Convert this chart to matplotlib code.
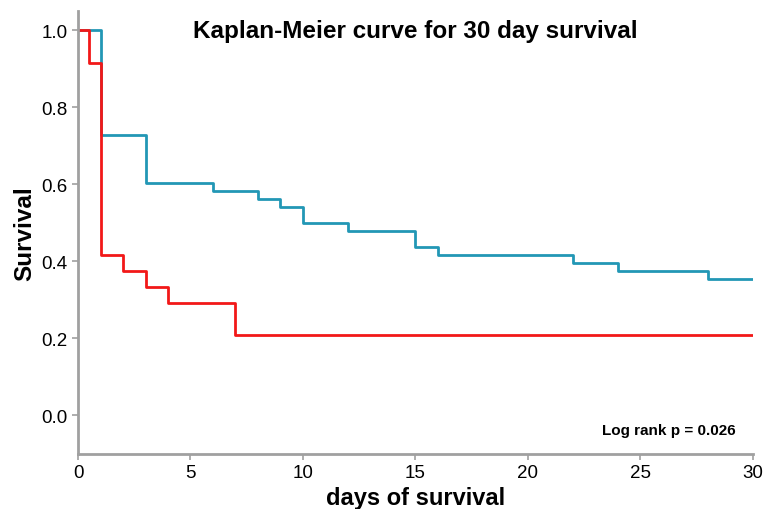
import numpy as np
import matplotlib
matplotlib.use("Agg")
import matplotlib.pyplot as plt

plt.rcParams['font.family'] = ['Liberation Sans', 'DejaVu Sans']

# blue group (n = 48)
blue_days = [0, 1, 3, 6, 8, 9, 10, 12, 15, 16, 22, 24, 28, 30]
blue_surv = [1.0, 35/48, 29/48, 28/48, 27/48, 26/48, 24/48, 23/48, 21/48, 20/48, 19/48, 18/48, 17/48, 17/48]

# red group (n = 24)
red_days = [0, 0.5, 1, 2, 3, 4, 7, 30]
red_surv = [1.0, 22/24, 10/24, 9/24, 8/24, 7/24, 5/24, 5/24]

title = 'Kaplan-Meier curve for 30 day survival'
pval_text = 'Log rank p = 0.026'

fig = plt.figure(figsize=(7.65, 5.1), dpi=100)
ax = fig.add_axes([0.102, 0.108, 0.882, 0.868])

ax.step(blue_days, blue_surv, where='post', color='#2297b5', linewidth=2)
ax.step(red_days, red_surv, where='post', color='#f21818', linewidth=2)

ax.set_xlim(0, 30)
ax.set_ylim(-0.1, 1.05)
ax.set_xticks([0, 5, 10, 15, 20, 25, 30])
ax.set_yticks([0.0, 0.2, 0.4, 0.6, 0.8, 1.0])
ax.set_yticklabels(['0.0', '0.2', '0.4', '0.6', '0.8', '1.0'])

for s in ['top', 'right']:
    ax.spines[s].set_visible(False)
for s in ['left', 'bottom']:
    ax.spines[s].set_color('#a0a0a0')
    ax.spines[s].set_linewidth(2)
ax.tick_params(colors='#a0a0a0', labelcolor='black', labelsize=13.5, length=4, width=1.2)

ax.set_xlabel('days of survival', fontsize=17, fontweight='bold', labelpad=3.5)
ax.set_ylabel('Survival', fontsize=17.5, fontweight='bold', labelpad=4)
ax.text(0.5, 0.957, title, transform=ax.transAxes, ha='center', va='center',
        fontsize=17.5, fontweight='bold')
ax.text(0.975, 0.055, pval_text, transform=ax.transAxes, ha='right', va='center',
        fontsize=11, fontweight='bold')

fig.savefig('out.png', dpi=100)
